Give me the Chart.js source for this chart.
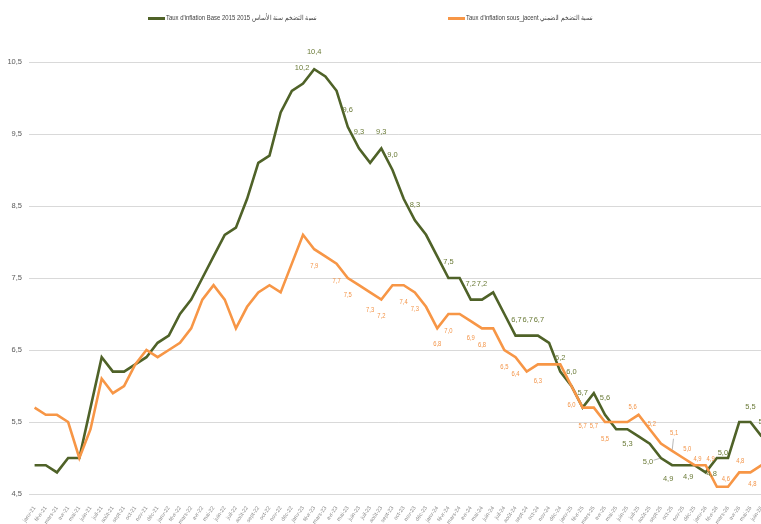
<!DOCTYPE html>
<html>
<head>
<meta charset="utf-8">
<script src="https://cdn.jsdelivr.net/npm/chart.js@4.4.1/dist/chart.umd.min.js"></script>
<style>
  html, body { margin: 0; padding: 0; background: #fff; overflow: hidden; }
  #wrap { position: absolute; left: 0; top: 0; width: 761px; height: 524px; overflow: hidden; }
  #chart { position: absolute; left: 0; top: 0; }
  .lg { position: absolute; top: 13px; font: 7px "Liberation Sans", sans-serif; color: #404040; white-space: nowrap; line-height: 10px; }
  .lg i { display: inline-block; width: 17px; height: 3px; vertical-align: middle; margin-right: 1px; }
  .lg span { display: inline-block; transform: scaleX(0.85); transform-origin: left center; vertical-align: middle; }
</style>
</head>
<body>
<div id="wrap">
  <canvas id="chart" width="770" height="524"></canvas>
  <div class="lg" style="left:148px"><i style="background:#4f6228"></i><span>Taux d'inflation Base 2015 نسبة التضخم سنة الأساس 2015</span></div>
  <div class="lg" style="left:448px"><i style="background:#f79646"></i><span>Taux d'inflation sous_jacent نسبة التضخم الضمني</span></div>
</div>
<script>
// months janv-21 .. juin-26
const months = ['janv', 'févr', 'mars', 'avr', 'mai', 'juin', 'juil', 'août', 'sept', 'oct', 'nov', 'déc'];
const years = ['21', '22', '23', '24', '25', '26'];
const categories = [];
years.forEach(y => months.forEach(m => categories.push(m + '-' + y)));
categories.length = 66;

const seriesNames = [
  "Taux d'inflation Base 2015 نسبة التضخم سنة الأساس 2015",
  "Taux d'inflation sous_jacent نسبة التضخم الضمني"
];

const inflationBase = [
  4.9, 4.9, 4.8, 5.0, 5.0, 5.7, 6.4, 6.2, 6.2, 6.3, 6.4, 6.6,
  6.7, 7.0, 7.2, 7.5, 7.8, 8.1, 8.2, 8.6, 9.1, 9.2, 9.8, 10.1,
  10.2, 10.4, 10.3, 10.1, 9.6, 9.3, 9.1, 9.3, 9.0, 8.6, 8.3, 8.1,
  7.8, 7.5, 7.5, 7.2, 7.2, 7.3, 7.0, 6.7, 6.7, 6.7, 6.6, 6.2,
  6.0, 5.7, 5.9, 5.6, 5.4, 5.4, 5.3, 5.2, 5.0, 4.9, 4.9, 4.9,
  4.8, 5.0, 5.0, 5.5, 5.5, 5.3
];

const inflationCore = [
  5.7, 5.6, 5.6, 5.5, 5.0, 5.4, 6.1, 5.9, 6.0, 6.3, 6.5, 6.4,
  6.5, 6.6, 6.8, 7.2, 7.4, 7.2, 6.8, 7.1, 7.3, 7.4, 7.3, 7.7,
  8.1, 7.9, 7.8, 7.7, 7.5, 7.4, 7.3, 7.2, 7.4, 7.4, 7.3, 7.1,
  6.8, 7.0, 7.0, 6.9, 6.8, 6.8, 6.5, 6.4, 6.2, 6.3, 6.3, 6.3,
  6.0, 5.7, 5.7, 5.5, 5.5, 5.5, 5.6, 5.4, 5.2, 5.1, 5.0, 4.9,
  4.9, 4.6, 4.6, 4.8, 4.8, 4.9
];

const yTicks = [4.5, 5.5, 6.5, 7.5, 8.5, 9.5, 10.5];

// which points get a value label, and where it sits relative to the point
const baseLabelSpots = [
  [24, -1, -16], [25, 0, -17], [28, 0, -17], [29, 0, -16], [31, 0, -16], [32, 0, -15],
  [34, 0, -15], [37, 0, -16], [39, 0, -16], [40, 0, -16], [43, 1, -16], [44, 1, -16],
  [45, 1, -16], [47, 0, -14], [48, 0, -14], [49, 0, -15], [51, 0, -17], [54, -11, 8],
  [56, -13, 4, true], [57, -4, 14], [58, 5, 12], [60, 6, 2], [61, 6, -5], [64, 0, -15],
  [65, 2, -14]
];
const coreLabelSpots = [
  [25, 0, 17], [27, 0, 18], [28, 0, 17], [30, 0, 18], [31, 0, 17], [33, 0, 17],
  [34, 0, 17], [36, 0, 16], [37, 0, 17], [39, 0, 17], [40, 0, 17], [42, 0, 17],
  [43, 0, 17], [45, 0, 17], [48, 0, 19], [49, 0, 19], [50, 0, 19], [51, 0, 17],
  [54, -6, -8], [56, -9, -19], [57, 2, -18, true], [58, 4, -9], [59, 3, -6],
  [60, 5, -6], [61, 9, -8], [63, 1, -11], [64, 2, 12]
];

const FONT = '"Liberation Sans", Arial, sans-serif';
const fmt = v => v.toFixed(1).replace('.', ',');

// value labels, drawn only on the points picked above
const valueLabels = {
  id: 'valueLabels',
  afterDatasetsDraw(chart) {
    const ctx = chart.ctx;
    const sets = [
      { ds: 0, spots: baseLabelSpots, color: '#6b7b38', size: 7.5, sx: 1 },
      { ds: 1, spots: coreLabelSpots, color: '#f39448', size: 6.5, sx: 0.9 }
    ];
    ctx.save();
    ctx.textAlign = 'center';
    ctx.textBaseline = 'middle';
    sets.forEach(s => {
      const meta = chart.getDatasetMeta(s.ds);
      const vals = chart.data.datasets[s.ds].data;
      ctx.font = s.size + 'px ' + FONT;
      s.spots.forEach(([i, dx, dy, leader]) => {
        const p = meta.data[i];
        const lx = p.x + dx, ly = p.y + dy;
        if (leader) {
          const d = Math.hypot(p.x - lx, p.y - ly);
          const ux = (p.x - lx) / d, uy = (p.y - ly) / d;
          ctx.strokeStyle = '#a6a6a6';
          ctx.lineWidth = 0.8;
          ctx.beginPath();
          ctx.moveTo(lx + ux * 6, ly + uy * 6);
          ctx.lineTo(p.x - ux, p.y - uy);
          ctx.stroke();
        }
        ctx.save();
        ctx.translate(lx, ly);
        ctx.scale(s.sx, 1);
        ctx.fillStyle = s.color;
        ctx.fillText(fmt(vals[i]), 0, 0);
        ctx.restore();
      });
    });
    ctx.restore();
  }
};

new Chart(document.getElementById('chart'), {
  type: 'line',
  data: {
    labels: categories,
    datasets: [
      { label: seriesNames[0], data: inflationBase, borderColor: '#4f6228', borderWidth: 2.6, pointRadius: 0, tension: 0, order: 1 },
      { label: seriesNames[1], data: inflationCore, borderColor: '#f79646', borderWidth: 2.6, pointRadius: 0, tension: 0, order: 0 }
    ]
  },
  options: {
    responsive: false,
    animation: false,
    layout: { padding: { top: 62, left: 0, right: 0, bottom: 0 } },
    plugins: { legend: { display: false }, tooltip: { enabled: false } },
    scales: {
      x: {
        offset: true,
        grid: { display: false },
        border: { color: '#d9d9d9', width: 1 },
        ticks: { autoSkip: false, maxRotation: 55, minRotation: 55, color: '#8c8c8c', font: { size: 5.5, family: FONT }, padding: 3 },
        afterFit: s => { s.height = 30; }
      },
      y: {
        min: 4.5,
        max: 10.5,
        afterBuildTicks: s => { s.ticks = yTicks.map(v => ({ value: v })); },
        grid: { color: '#d9d9d9', drawTicks: false },
        border: { display: false },
        ticks: { color: '#595959', font: { size: 7.5, family: FONT }, padding: 7, callback: v => fmt(v) },
        afterFit: s => { s.width = 29; }
      }
    }
  },
  plugins: [valueLabels]
});
</script>
</body>
</html>
